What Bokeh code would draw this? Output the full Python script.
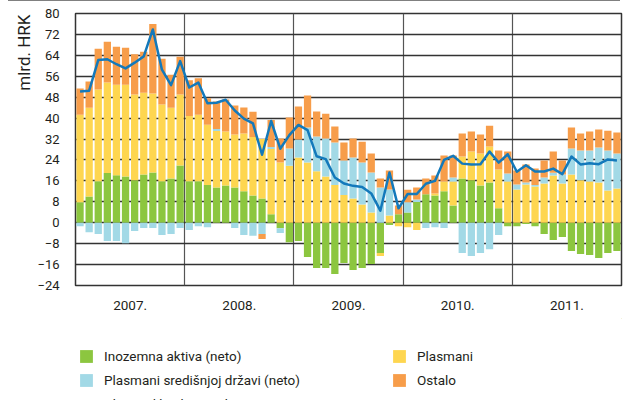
from bokeh.plotting import figure
from bokeh.layouts import column
from bokeh.models import (FixedTicker, Legend, LegendItem, Title, Range1d, Div)
from bokeh.embed import file_html
from bokeh.resources import INLINE

years = ["2007.", "2008.", "2009.", "2010.", "2011."]
y_ticks = [-24, -16, -8, 0, 8, 16, 24, 32, 40, 48, 56, 64, 72, 80]

# Inozemna aktiva (neto)
inozemna = [7.8, 10.0, 15.9, 19.0, 18.2, 17.7, 16.2, 18.4, 19.2, 15.9, 16.9, 21.9,
            15.9, 15.9, 14.4, 13.5, 14.2, 13.5, 12.0, 10.4, 9.3, 3.2, -2.1, -7.5,
            -7.0, -13.1, -17.3, -17.3, -19.6, -15.4, -18.1, -17.3, -15.8, -11.6, -0.9, 3.2,
            3.9, 7.9, 10.9, 10.4, 12.0, 6.6, 16.9, 16.2, 14.2, 15.4, 5.5, -1.3,
            -1.3, -0.5, -1.3, -4.3, -6.6, -5.5, -10.8, -12.0, -12.3, -13.5, -11.6, -10.8]
# Plasmani
plasmani = [33.5, 34.0, 35.0, 34.6, 34.6, 35.1, 32.8, 31.3, 30.2, 29.3, 27.1, 27.1,
            24.9, 25.4, 23.1, 21.6, 20.7, 20.2, 22.1, 22.4, 22.7, 25.0, 23.0, 21.8,
            24.9, 23.0, 19.7, 17.7, 14.4, 10.6, 9.3, 7.0, 3.9, -1.1, 2.8, -1.3,
            -1.7, -2.8, 0.0, 0.8, 3.8, 9.2, 8.4, 11.0, 12.3, 13.7, 14.9, 15.8,
            12.7, 14.6, 13.9, 15.0, 18.1, 15.0, 18.4, 16.2, 15.8, 15.4, 12.3, 13.1]
# Plasmani središnjoj državi (neto)
drzava = [-1.3, -3.6, -4.3, -7.0, -7.0, -7.8, -3.2, -2.0, -2.0, -4.7, -4.3, -2.0,
          -2.8, -1.3, -1.7, 0.7, 0.0, -2.0, -4.7, -5.0, -4.3, 0.8, -1.8, 6.6,
          6.9, 13.4, 13.3, 14.5, 16.3, 13.2, 15.6, 16.0, 15.3, 13.5, 9.9, 0.0,
          3.9, 1.0, -2.0, -1.7, -2.0, 1.5, -11.6, -12.7, -11.6, -10.1, -4.7, 3.0,
          1.9, 0.8, 0.5, 2.3, 1.0, 3.4, 10.0, 11.4, 11.8, 13.4, 15.3, 13.4]
# Ostalo
ostalo = [10.0, 10.0, 15.6, 15.6, 14.5, 14.1, 15.4, 15.7, 26.6, 17.5, 12.6, 14.5,
          13.7, 13.9, 10.1, 10.6, 12.2, 11.1, 10.0, 9.6, -1.9, 10.3, 9.2, 11.8,
          12.6, 12.2, 9.5, 9.5, 6.1, 6.9, 7.3, 8.0, 7.3, 3.4, 7.3, 3.4,
          4.8, 4.6, 6.0, 6.9, 9.9, 8.4, 8.8, 7.7, 7.2, 8.0, 7.2, 8.4,
          5.4, 6.9, 6.3, 6.5, 8.1, 5.4, 8.0, 6.5, 7.3, 6.8, 7.6, 8.0]
# Ukupna likvidna sredstva
ukupna = [50.2, 50.5, 62.2, 62.5, 60.6, 59.0, 61.2, 63.6, 73.9, 58.5, 52.6, 61.8,
          51.7, 53.6, 45.7, 45.9, 47.0, 42.9, 39.8, 38.0, 26.0, 38.9, 28.3, 33.5,
          37.4, 35.4, 25.4, 24.3, 17.3, 15.0, 14.1, 13.7, 11.2, 4.6, 19.2, 5.5,
          11.0, 11.0, 14.9, 16.0, 24.0, 25.6, 22.6, 22.3, 22.4, 27.2, 23.0, 26.2,
          19.5, 22.0, 19.6, 19.6, 20.7, 18.6, 25.3, 22.3, 22.7, 22.4, 24.2, 23.8]

series = [
    ("Inozemna aktiva (neto)", inozemna, "#8cc63f"),
    ("Plasmani", plasmani, "#fed650"),
    ("Plasmani središnjoj državi (neto)", drzava, "#a2d9e6"),
    ("Ostalo", ostalo, "#f79d4a"),
]
LINE_COLOR = "#1379bb"

n = len(inozemna)
xs = [i + 0.5 for i in range(n)]

FONT = "Roboto"
TXT = "#231f20"

# ---------------- main chart ----------------
p = figure(width=624, height=317, output_backend="svg", toolbar_location=None,
           x_range=Range1d(0, n), y_range=Range1d(-24, 80),
           min_border_left=69, min_border_right=3, min_border_top=12, min_border_bottom=33)
p.background_fill_color = "white"
p.border_fill_color = "white"
p.outline_line_color = "#333333"
p.outline_line_width = 1.5

pos = [0.0] * n
neg = [0.0] * n
for name, vals, col in series:
    tops, bots = [], []
    for i, v in enumerate(vals):
        if v >= 0:
            bots.append(pos[i]); tops.append(pos[i] + v); pos[i] += v
        else:
            tops.append(neg[i]); bots.append(neg[i] + v); neg[i] += v
    p.vbar(x=xs, top=tops, bottom=bots, width=0.8, fill_color=col, line_color=None)

p.line(xs, ukupna, line_color=LINE_COLOR, line_width=2.5, line_join="round")

p.yaxis.ticker = FixedTicker(ticks=y_ticks)
p.yaxis.major_label_overrides = {t: (("\u2212" + str(-t)) if t < 0 else str(t)) for t in y_ticks}
p.xaxis.ticker = FixedTicker(ticks=[6, 18, 30, 42, 54])
p.xaxis.major_label_overrides = {6 + 12 * k: years[k] for k in range(len(years))}
for ax in (p.xaxis[0], p.yaxis[0]):
    ax.axis_line_color = None
    ax.major_tick_line_color = None
    ax.minor_tick_line_color = None
    ax.major_tick_out = 0
    ax.major_tick_in = 0
    ax.minor_tick_out = 0
    ax.minor_tick_in = 0
    ax.major_label_text_font = FONT
    ax.major_label_text_color = TXT
p.yaxis.major_label_text_font_size = "13px"
p.xaxis.major_label_text_font_size = "13.5px"
p.yaxis.major_label_standoff = 16
p.xaxis.major_label_standoff = 15

p.ygrid.ticker = FixedTicker(ticks=y_ticks)
p.ygrid.grid_line_color = "#333333"
p.ygrid.grid_line_width = 1.5
p.xgrid.ticker = FixedTicker(ticks=[12, 24, 36, 48])
p.xgrid.grid_line_color = "#555555"
p.xgrid.grid_line_width = 1.2

# unit label (left side, aligned to the top) and a small spacer at the far left
p.add_layout(Title(text="mlrd. HRK", align="right", offset=1, standoff=1,
                   text_font=FONT, text_font_size="17px", text_font_style="normal",
                   text_color=TXT), "left")
p.add_layout(Title(text=" ", standoff=8, text_font_size="1px"), "left")

# ---------------- legend strip ----------------
q = figure(width=624, height=82, output_backend="svg", toolbar_location=None,
           x_range=Range1d(0, 1), y_range=Range1d(0, 1),
           x_axis_location=None, y_axis_location=None,
           min_border_left=0, min_border_right=0, min_border_top=0, min_border_bottom=0)
q.outline_line_color = None
q.grid.visible = False
q.background_fill_color = "white"
q.border_fill_color = "white"

# legend swatch renderers (placed outside the visible range)
sw = {}
for name, _, col in series:
    sw[name] = q.vbar(x=[5], top=[5], bottom=[4], width=0.5, fill_color=col, line_color=None)
ln = q.line(x=[5, 6], y=[5, 5], line_color=LINE_COLOR, line_width=2.5)

def mk_legend(items, loc, gw=16):
    lg = Legend(items=items, location=loc, orientation="vertical",
                glyph_width=gw, glyph_height=16, label_height=16, spacing=8,
                padding=0, margin=0, label_standoff=10,
                label_text_font=FONT, label_text_font_size="13.5px", label_text_color=TXT,
                border_line_alpha=0, background_fill_alpha=0)
    q.add_layout(lg)

mk_legend([LegendItem(label="Inozemna aktiva (neto)", renderers=[sw["Inozemna aktiva (neto)"]]),
           LegendItem(label="Plasmani središnjoj državi (neto)", renderers=[sw["Plasmani središnjoj državi (neto)"]]),
           LegendItem(label="Ukupna likvidna sredstva", renderers=[ln])],
          (3, -11.5))
mk_legend([LegendItem(label="Plasmani", renderers=[sw["Plasmani"]]),
           LegendItem(label="Ostalo", renderers=[sw["Ostalo"]])],
          (316, 12.5))

rule = Div(text="", width=612, height=1, margin=(0, 0, 0, 8),
           styles={"background-color": "#808080", "border-top": "1px solid #808080"})

layout = column(rule, p, q, spacing=0)
open("out.html", "w").write(file_html(layout, INLINE))
